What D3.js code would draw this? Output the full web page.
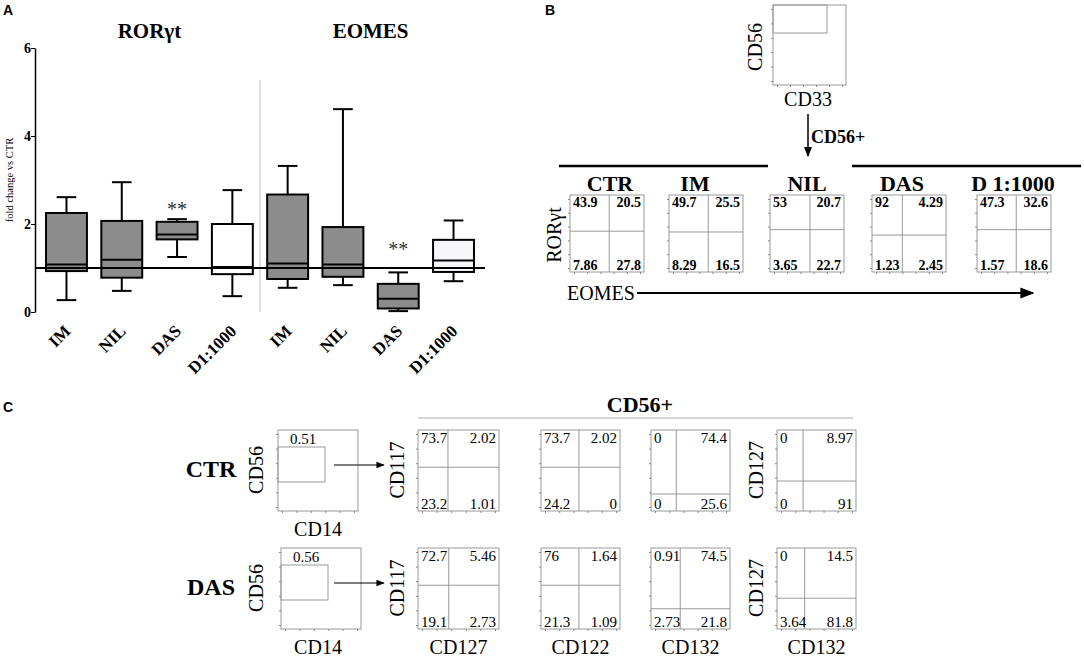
<!DOCTYPE html>
<html>
<head>
<meta charset="utf-8">
<script src="https://cdn.jsdelivr.net/npm/d3@7"></script>
<style>
  body { margin: 0; background: #fff; }
  svg { display: block; }
  .serif { font-family: "Liberation Serif", "DejaVu Serif", serif; }
  .sans { font-family: "Liberation Sans", Arial, sans-serif; }
</style>
</head>
<body>
<div id="fig"></div>
<script>
// ---- panel A data: box stats [min, q1, median, q3, max]
const categories = ['IM', 'NIL', 'DAS', 'D1:1000'];
const genes = ['RORγt', 'EOMES'];
const rorgtBoxes = [
  [0.27, 0.93, 1.08, 2.25, 2.61],
  [0.48, 0.78, 1.19, 2.07, 2.95],
  [1.25, 1.65, 1.76, 2.05, 2.11],
  [0.36, 0.86, 1.02, 2.00, 2.77]
];
const eomesBoxes = [
  [0.55, 0.75, 1.10, 2.67, 3.32],
  [0.61, 0.80, 1.08, 1.93, 4.61],
  [0.02, 0.08, 0.30, 0.64, 0.90],
  [0.70, 0.91, 1.17, 1.64, 2.08]
];
const boxFills = ['#8c8c8c', '#8c8c8c', '#8c8c8c', '#ffffff', '#8c8c8c', '#8c8c8c', '#8c8c8c', '#f7f7fa'];
const yTicks = [0, 2, 4, 6];
const starLevels = [[2, 2.45], [6, 1.55]];  // [box index, level]

// ---- panel B data
const bTitles = ['CTR', 'IM', 'NIL', 'DAS', 'D 1:1000'];
const bQuadrants = [
  [43.9, 20.5, 7.86, 27.8],
  [49.7, 25.5, 8.29, 16.5],
  [53, 20.7, 3.65, 22.7],
  [92, 4.29, 1.23, 2.45],
  [47.3, 32.6, 1.57, 18.6]
];

// ---- panel C data
const cRows = ['CTR', 'DAS'];
const cGateValues = ['0.51', '0.56'];
const cXLabels = ['CD127', 'CD122', 'CD132', 'CD132'];
const cYLabels = ['CD117', '', '', 'CD127'];
const cQuadrants = [
  [['73.7', '2.02', '23.2', '1.01'], ['73.7', '2.02', '24.2', '0'], ['0', '74.4', '0', '25.6'], ['0', '8.97', '0', '91']],
  [['72.7', '5.46', '19.1', '2.73'], ['76', '1.64', '21.3', '1.09'], ['0.91', '74.5', '2.73', '21.8'], ['0', '14.5', '3.64', '81.8']]
];

const svg = d3.select('#fig').append('svg')
  .attr('width', 1084).attr('height', 657);

const defs = svg.append('defs');
defs.append('marker').attr('id', 'arr')
  .attr('viewBox', '0 0 10 10').attr('refX', 9).attr('refY', 5)
  .attr('markerWidth', 7).attr('markerHeight', 7).attr('orient', 'auto')
  .append('path').attr('d', 'M0,1 L10,5 L0,9 Z').attr('fill', '#000');

const letter = (t, x, y) => svg.append('text').attr('class', 'sans')
  .attr('x', x).attr('y', y).attr('font-size', 14).attr('font-weight', 'bold').text(t);
letter('A', 3, 15);
letter('B', 545, 15);
letter('C', 3, 412);

/**
 * Panel A box plot
 */
const drawBoxes = () => {
  const g = svg.append('g');
  const boxes = rorgtBoxes.concat(eomesBoxes);
  const keys = boxes.map((d, i) => i);
  const x = d3.scaleBand().domain(keys).range([38, 482]).paddingInner(0.26).paddingOuter(0.145);
  const y = d3.scaleLinear().domain([0, 6]).range([312, 48]);
  const bw = x.bandwidth();

  const yAxis = g.append('g')
    .attr('transform', 'translate(35,0)')
    .call(d3.axisLeft(y).tickValues(yTicks).tickSize(4).tickSizeOuter(0).tickFormat(d3.format('d')));
  yAxis.select('.domain').attr('stroke-width', 1.5);
  yAxis.selectAll('text').attr('font-size', 14).attr('font-weight', 'bold')
    .attr('font-family', '"Liberation Serif", serif').attr('x', -4);

  g.append('text').attr('class', 'serif')
    .attr('transform', `translate(13,${y(3)}) rotate(-90)`)
    .attr('text-anchor', 'middle').attr('font-size', 10.5).text('fold change vs CTR');

  // separator between gene groups
  const sep = (x(3) + bw + x(4)) / 2;
  g.append('line').attr('x1', sep).attr('x2', sep).attr('y1', 80).attr('y2', y(0))
    .attr('stroke', '#bbb').attr('stroke-width', 1);

  genes.forEach((t, i) => {
    const cx = (x(i * 4) + x(i * 4 + 3) + bw) / 2;
    g.append('text').attr('class', 'serif').attr('x', cx).attr('y', 38)
      .attr('text-anchor', 'middle').attr('font-size', 21).attr('font-weight', 'bold').text(t);
  });

  const b = g.selectAll('.box').data(boxes).enter().append('g').attr('class', 'box')
    .attr('transform', (d, i) => `translate(${x(i)},0)`);
  const cx = bw / 2, cap = bw * 0.24;
  b.append('line').attr('x1', cx).attr('x2', cx).attr('y1', d => y(d[0])).attr('y2', d => y(d[1]))
    .attr('stroke', '#000').attr('stroke-width', 2);
  b.append('line').attr('x1', cx).attr('x2', cx).attr('y1', d => y(d[3])).attr('y2', d => y(d[4]))
    .attr('stroke', '#000').attr('stroke-width', 2);
  b.append('line').attr('x1', cx - cap).attr('x2', cx + cap).attr('y1', d => y(d[0])).attr('y2', d => y(d[0]))
    .attr('stroke', '#000').attr('stroke-width', 2);
  b.append('line').attr('x1', cx - cap).attr('x2', cx + cap).attr('y1', d => y(d[4])).attr('y2', d => y(d[4]))
    .attr('stroke', '#000').attr('stroke-width', 2);
  b.append('rect').attr('x', 0).attr('width', bw)
    .attr('y', d => y(d[3])).attr('height', d => y(d[1]) - y(d[3]))
    .attr('fill', (d, i) => boxFills[i]).attr('stroke', '#000').attr('stroke-width', 2);
  b.append('line').attr('x1', 0).attr('x2', bw).attr('y1', d => y(d[2])).attr('y2', d => y(d[2]))
    .attr('stroke', '#000').attr('stroke-width', 2);

  // reference line at fold change 1
  g.append('line').attr('x1', 35).attr('x2', 485).attr('y1', y(1)).attr('y2', y(1))
    .attr('stroke', '#000').attr('stroke-width', 2);

  starLevels.forEach(([i, v]) => {
    g.append('text').attr('class', 'serif').attr('x', x(i) + cx).attr('y', y(v) + 12)
      .attr('text-anchor', 'middle').attr('font-size', 20).attr('fill', '#333').text('**');
  });

  const xAxis = g.append('g')
    .attr('transform', `translate(0,${y(0)})`)
    .call(d3.axisBottom(x).tickSize(0).tickFormat(i => categories[i % 4]));
  xAxis.select('.domain').remove();
  xAxis.selectAll('text')
    .attr('font-family', '"Liberation Serif", serif').attr('font-size', 17).attr('font-weight', 'bold')
    .attr('text-anchor', 'end').attr('dy', 0)
    .attr('transform', 'translate(3,18) rotate(-45)');
};

/**
 * Flow plot frame with quadrant gate and tiny ticks
 */
const flowFrame = (x0, y0, w, h, gx, gy) => {
  const g = svg.append('g');
  g.append('rect').attr('x', x0).attr('y', y0).attr('width', w).attr('height', h)
    .attr('fill', 'none').attr('stroke', '#999').attr('stroke-width', 1);
  const tx = d3.scaleLinear().domain([0, 5]).range([x0 + 4, x0 + w - 4]);
  const ty = d3.scaleLinear().domain([0, 5]).range([y0 + h - 4, y0 + 4]);
  g.append('g').attr('transform', `translate(0,${y0 + h})`)
    .call(d3.axisBottom(tx).ticks(5).tickSize(2).tickFormat(''))
    .call(a => a.select('.domain').remove()).selectAll('line').attr('stroke', '#888');
  g.append('g').attr('transform', `translate(${x0},0)`)
    .call(d3.axisLeft(ty).ticks(5).tickSize(2).tickFormat(''))
    .call(a => a.select('.domain').remove()).selectAll('line').attr('stroke', '#888');
  if (gx != null) {
    g.append('line').attr('x1', x0 + gx * w).attr('x2', x0 + gx * w).attr('y1', y0).attr('y2', y0 + h)
      .attr('stroke', '#999');
    g.append('line').attr('x1', x0).attr('x2', x0 + w).attr('y1', y0 + gy * h).attr('y2', y0 + gy * h)
      .attr('stroke', '#999');
  }
  return g;
};

const quadText = (g, x0, y0, w, h, vals, bold, fs) => {
  const pos = [[x0 + 3, y0 + fs - 2], [x0 + w - 3, y0 + fs - 2],
               [x0 + 3, y0 + h - 2], [x0 + w - 3, y0 + h - 2]];
  vals.forEach((v, i) => {
    g.append('text').attr('class', 'serif').attr('x', pos[i][0]).attr('y', pos[i][1])
      .attr('text-anchor', i % 2 ? 'end' : 'start')
      .attr('font-size', fs).attr('font-weight', bold ? 'bold' : 'normal').text(v);
  });
};

/**
 * Panel B
 */
const drawB = () => {
  // CD33 / CD56 gating plot
  const top = flowFrame(773, 5, 73, 80, null, null);
  top.append('rect').attr('x', 773).attr('y', 5).attr('width', 54).attr('height', 28)
    .attr('fill', 'none').attr('stroke', '#999');
  svg.append('text').attr('class', 'serif').attr('transform', 'translate(762,47) rotate(-90)')
    .attr('text-anchor', 'middle').attr('font-size', 20).text('CD56');
  svg.append('text').attr('class', 'serif').attr('x', 808).attr('y', 106)
    .attr('text-anchor', 'middle').attr('font-size', 20).text('CD33');

  svg.append('line').attr('x1', 808).attr('x2', 808).attr('y1', 114).attr('y2', 156)
    .attr('stroke', '#000').attr('stroke-width', 1.5).attr('marker-end', 'url(#arr)');
  svg.append('text').attr('class', 'serif').attr('x', 811).attr('y', 143)
    .attr('font-size', 18).attr('font-weight', 'bold').text('CD56+');

  svg.append('line').attr('x1', 559).attr('x2', 768).attr('y1', 166).attr('y2', 166)
    .attr('stroke', '#000').attr('stroke-width', 2.5);
  svg.append('line').attr('x1', 852).attr('x2', 1081).attr('y1', 166).attr('y2', 166)
    .attr('stroke', '#000').attr('stroke-width', 2.5);

  const lefts = [570, 669, 770, 872, 977];
  const gates = [[0.53, 0.47], [0.53, 0.48], [0.54, 0.45], [0.41, 0.52], [0.53, 0.45]];
  const centers = [610, 695, 807, 902, 1013];
  bTitles.forEach((t, i) => {
    svg.append('text').attr('class', 'serif').attr('x', centers[i]).attr('y', 191)
      .attr('text-anchor', 'middle').attr('font-size', 22).attr('font-weight', 'bold').text(t);
    const g = flowFrame(lefts[i], 195, 74, 77, gates[i][0], gates[i][1]);
    quadText(g, lefts[i], 195, 74, 77, bQuadrants[i].map(String), true, 14);
  });

  svg.append('text').attr('class', 'serif').attr('transform', 'translate(561,235) rotate(-90)')
    .attr('text-anchor', 'middle').attr('font-size', 20).text('RORγt');
  svg.append('text').attr('class', 'serif').attr('x', 567).attr('y', 300)
    .attr('font-size', 20).text('EOMES');
  svg.append('line').attr('x1', 637).attr('x2', 1033).attr('y1', 293).attr('y2', 293)
    .attr('stroke', '#000').attr('stroke-width', 2).attr('marker-end', 'url(#arr)');
};

/**
 * Panel C
 */
const drawC = () => {
  svg.append('text').attr('class', 'serif').attr('x', 640).attr('y', 412)
    .attr('text-anchor', 'middle').attr('font-size', 22).attr('font-weight', 'bold').text('CD56+');
  svg.append('line').attr('x1', 418).attr('x2', 853).attr('y1', 418).attr('y2', 418)
    .attr('stroke', '#aaa').attr('stroke-width', 1);

  const rowTop = [430, 548];
  const cdLeft = [278, 281];
  const plotLefts = [418, 541, 651, 777];
  const cGates = [
    [[0.37, 0.46], [0.48, 0.46], [0.32, 0.79], [0.33, 0.63]],
    [[0.38, 0.46], [0.48, 0.46], [0.37, 0.75], [0.35, 0.62]]
  ];
  cRows.forEach((r, ri) => {
    const y0 = rowTop[ri];
    svg.append('text').attr('class', 'serif').attr('x', 211).attr('y', y0 + 47)
      .attr('text-anchor', 'middle').attr('font-size', 24).attr('font-weight', 'bold').text(r);

    const xl = cdLeft[ri];
    const g = flowFrame(xl, y0, 80, 81, null, null);
    g.append('rect').attr('x', xl).attr('y', y0 + 17).attr('width', 47).attr('height', 35)
      .attr('fill', 'none').attr('stroke', '#999');
    g.append('text').attr('class', 'serif').attr('x', xl + 12).attr('y', y0 + 14)
      .attr('font-size', 15).text(cGateValues[ri]);
    svg.append('text').attr('class', 'serif').attr('transform', `translate(263,${y0 + 40}) rotate(-90)`)
      .attr('text-anchor', 'middle').attr('font-size', 20).text('CD56');
    svg.append('text').attr('class', 'serif').attr('x', 318).attr('y', y0 + 106)
      .attr('text-anchor', 'middle').attr('font-size', 20).text('CD14');
    svg.append('line').attr('x1', 334).attr('x2', 384).attr('y1', y0 + 35).attr('y2', y0 + 35)
      .attr('stroke', '#000').attr('stroke-width', 1.2).attr('marker-end', 'url(#arr)');

    plotLefts.forEach((px, pi) => {
      const w = pi === 0 ? 81 : 79;
      const pg = flowFrame(px, y0, w, 81, cGates[ri][pi][0], cGates[ri][pi][1]);
      quadText(pg, px, y0, w, 81, cQuadrants[ri][pi], false, 15);
      if (cYLabels[pi]) {
        svg.append('text').attr('class', 'serif')
          .attr('transform', `translate(${px - 14},${y0 + 40}) rotate(-90)`)
          .attr('text-anchor', 'middle').attr('font-size', 20).text(cYLabels[pi]);
      }
      if (ri === 1) {
        svg.append('text').attr('class', 'serif').attr('x', px + w / 2).attr('y', y0 + 106)
          .attr('text-anchor', 'middle').attr('font-size', 20).text(cXLabels[pi]);
      }
    });
  });
};

drawBoxes();
drawB();
drawC();
</script>
</body>
</html>
